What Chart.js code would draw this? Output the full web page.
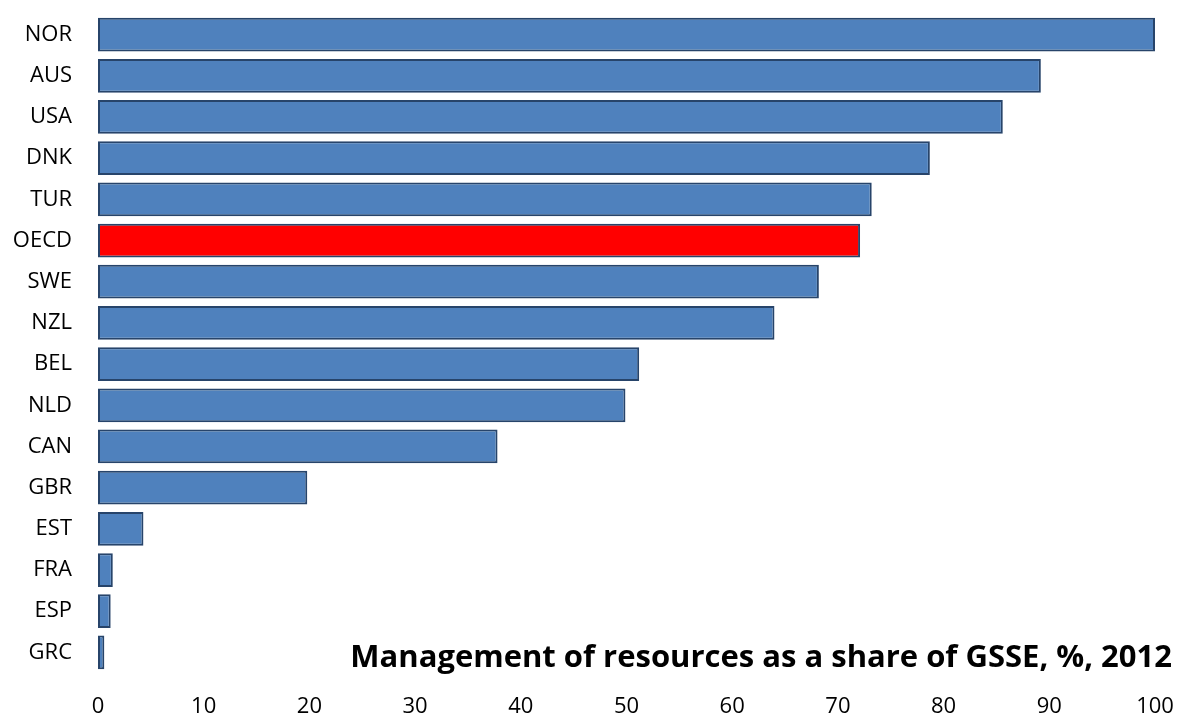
<!DOCTYPE html>
<html>
<head>
<meta charset="utf-8">
<script src="https://cdn.jsdelivr.net/npm/chart.js@4"></script>
<style>
  html, body { margin: 0; padding: 0; background: #fff; }
  #wrap { width: 1181px; height: 718px; }
</style>
</head>
<body>
<div id="wrap"><canvas id="chart"></canvas></div>
<script>
// data
const countries = ['NOR', 'AUS', 'USA', 'DNK', 'TUR', 'OECD', 'SWE', 'NZL', 'BEL', 'NLD', 'CAN', 'GBR', 'EST', 'FRA', 'ESP', 'GRC'];
const shares = [100, 89.2, 85.6, 78.7, 73.2, 72.1, 68.2, 64.0, 51.2, 49.9, 37.8, 19.8, 4.3, 1.4, 1.2, 0.6];
const xTicks = [0, 10, 20, 30, 40, 50, 60, 70, 80, 90, 100];
const titleText = 'Management of resources as a share of GSSE, %, 2012';

const blue = '#4F81BD';
const red = '#FF0000';

let fills = countries.map(c => c === 'OECD' ? red : blue);

// titel rechtsonder in het plotgebied
const titlePlugin = {
  id: 'bottomTitle',
  afterDraw(chart) {
    let ctx = chart.ctx;
    ctx.save();
    ctx.font = 'bold 31px "Open Sans"';
    ctx.fillStyle = '#000';
    ctx.textAlign = 'right';
    ctx.textBaseline = 'alphabetic';
    ctx.fillText(titleText, 1172, 667);
    ctx.restore();
  }
};

new Chart(document.getElementById('chart'), {
  type: 'bar',
  data: {
    labels: countries,
    datasets: [{
      data: shares,
      backgroundColor: fills,
      borderColor: '#27446A',
      borderWidth: 2,
      borderSkipped: false,
      barPercentage: 0.82,
      categoryPercentage: 1.0
    }]
  },
  options: {
    indexAxis: 'y',
    responsive: true,
    maintainAspectRatio: false,
    animation: false,
    layout: { padding: { top: 14, right: 26, bottom: 0, left: 0 } },
    plugins: {
      legend: { display: false },
      tooltip: { enabled: false }
    },
    scales: {
      x: {
        min: 0,
        max: 100,
        afterBuildTicks(axis) { axis.ticks = xTicks.map(v => ({ value: v })); },
        afterFit(axis) {
          axis.height = 45;
          axis.paddingLeft = 0;
          axis.paddingRight = 0;
        },
        grid: { display: false, drawTicks: false },
        border: { display: false },
        ticks: { color: '#000', padding: 23, font: { family: 'Open Sans', size: 22, lineHeight: 1.0 }, maxRotation: 0 }
      },
      y: {
        afterFit(axis) {
          axis.width = 98;
          axis.paddingTop = 0;
          axis.paddingBottom = 0;
        },
        grid: { display: false, drawTicks: false },
        border: { display: false },
        ticks: { color: '#000', padding: 26, font: { family: 'Open Sans', size: 22 } }
      }
    }
  },
  plugins: [titlePlugin]
});
</script>
</body>
</html>
